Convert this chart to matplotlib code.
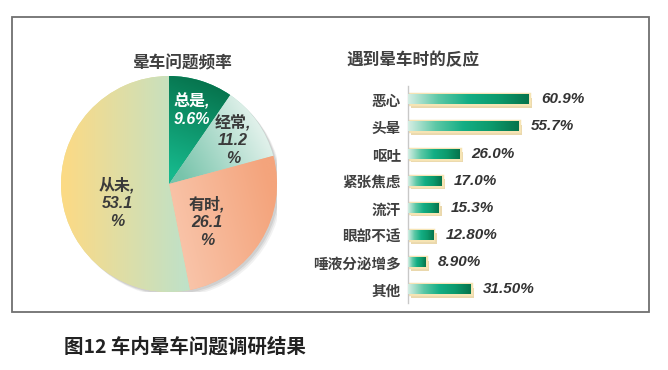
import numpy as np
import matplotlib
matplotlib.use("Agg")
import matplotlib.pyplot as plt
from matplotlib.colors import LinearSegmentedColormap, to_rgb
from matplotlib.patches import Rectangle, Circle
import matplotlib.patheffects as pe

plt.rcParams['font.family'] = ['Noto Sans CJK SC', 'DejaVu Sans']

# ---- data ----
pie_labels = ["总是", "经常", "有时", "从未"]
pie_values = [9.6, 11.2, 26.1, 53.1]
pie_texts = ["总是,\n9.6%", "经常,\n11.2\n%", "有时,\n26.1\n%", "从未,\n53.1\n%"]

bar_categories = ["恶心", "头晕", "呕吐", "紧张焦虑", "流汗", "眼部不适", "唾液分泌增多", "其他"]
bar_values = [60.9, 55.7, 26.0, 17.0, 15.3, 12.8, 8.9, 31.5]
bar_value_labels = ["60.9%", "55.7%", "26.0%", "17.0%", "15.3%", "12.80%", "8.90%", "31.50%"]

pie_title = "晕车问题频率"
bar_title = "遇到晕车时的反应"
caption = "图12 车内晕车问题调研结果"

W, H = 668, 370
fig = plt.figure(figsize=(W / 100, H / 100), dpi=100)
fig.patch.set_facecolor("white")

def fx(px):
    return px / W

def fy(py):
    return 1 - py / H

# border
fig.add_artist(Rectangle((fx(12), fy(312)), fx(649) - fx(12), fy(17) - fy(312),
                         transform=fig.transFigure, fill=False, edgecolor="#707070", lw=1.3))

# ---- pie ----
cx, cy, r = 169, 184, 108
pax = fig.add_axes([fx(cx - r), fy(cy + r), 2 * r / W, 2 * r / H])
wedges, _ = pax.pie(pie_values, startangle=90, counterclock=False, radius=1,
                    colors=["#0a9a6a", "#b0dccb", "#f6b48e", "#e6e0a0"])

# shadow
for k, a in enumerate([0.10, 0.08, 0.06]):
    off = 0.02 + 0.012 * k
    pax.add_patch(Circle((off, -off), 1.0, color="#303030", alpha=a, zorder=0, lw=0))

grads = [
    ((0.40, 0.95), "#06724c", (0.05, 0.10), "#16b88c"),
    ((0.90, 0.55), "#e8f4ef", (0.10, 0.10), "#78c4ab"),
    ((0.00, -0.50), "#f9c6ac", (1.00, -0.25), "#f4a47c"),
    ((-1.00, 0.00), "#fdda84", (0.25, 0.00), "#bbe2cd"),
]
N = 300
xs = np.linspace(-1, 1, N)
X, Y = np.meshgrid(xs, xs)
for w, (p0, c0, p1, c1) in zip(wedges, grads):
    p0 = np.array(p0); p1 = np.array(p1)
    d = p1 - p0
    t = ((X - p0[0]) * d[0] + (Y - p0[1]) * d[1]) / (d @ d)
    t = np.clip(t, 0, 1)[..., None]
    img = (1 - t) * np.array(to_rgb(c0)) + t * np.array(to_rgb(c1))
    im = pax.imshow(img, extent=[-1, 1, -1, 1], origin="lower", aspect="auto",
                    zorder=2, interpolation="bilinear")
    im.set_clip_path(w)
    w.set_zorder(1)

pie_pos = [(192, 110), (233, 140), (207, 222), (117, 203)]
pie_colors = ["white", "#3a3a3a", "#3a3a3a", "#3a3a3a"]
for txt, (px, py), col in zip(pie_texts, pie_pos, pie_colors):
    pax.text((px - cx) / r, (cy - py) / r, txt, ha="center", va="center",
             fontsize=11.5, fontweight="bold", style="italic", color=col,
             family=["Liberation Sans", "Noto Sans CJK SC"], linespacing=1.2, zorder=5)
pax.set_xlim(-1, 1)
pax.set_ylim(-1, 1)
pax.set_aspect("auto")
pax.axis("off")

fig.text(fx(183), fy(63), pie_title, ha="center", va="center", fontsize=12,
         fontweight="bold", color="#404040")

# ---- bars ----
x0 = 408
unit = 121 / 60.9
top_y, step = 99.3, (289.3 - 99.3) / 7
bax = fig.add_axes([fx(x0), fy(top_y + 7 * step + step / 2), 100 * unit / W, 8 * step / H])
ypos = np.arange(len(bar_categories))
bh = 0.37
bars = bax.barh(ypos, bar_values, height=bh, color="#1aa87c", zorder=2)
bar_cmap = LinearSegmentedColormap.from_list(
    "g", ["#d6eee4", "#5cc8a6", "#14ae84", "#0c9a6c", "#06744c"], N=256)
grad = np.linspace(0, 1, 256)[None, :]
for b, v, i in zip(bars, bar_values, ypos):
    b.set_path_effects([
        pe.SimplePatchShadow(offset=(2.5, -2.5), shadow_rgbFace="#d9b86a", alpha=0.55),
        pe.Stroke(linewidth=2.5, foreground="#f6e4b4"),
        pe.Normal(),
    ])
    im = bax.imshow(grad, extent=[0, v, i + bh / 2, i - bh / 2], cmap=bar_cmap,
                    aspect="auto", zorder=3, interpolation="bilinear")
    im.set_clip_path(b)
    bax.text(v + 6, i, bar_value_labels[i], ha="left", va="center", fontsize=11,
             fontweight="bold", style="italic", color="#333333",
             family=["Liberation Sans", "Noto Sans CJK SC"])

bax.set_xlim(0, 100)
bax.set_ylim(len(bar_categories) - 0.5, -0.5)
bax.set_yticks(ypos)
bax.set_yticklabels(bar_categories, fontsize=10.5, fontweight="bold", color="#404040")
bax.tick_params(axis="y", length=0, pad=5)
bax.set_xticks([])
for s in ["top", "right", "bottom"]:
    bax.spines[s].set_visible(False)
bax.spines["left"].set_color("#c8c8c8")
bax.spines["left"].set_linewidth(1)
bax.patch.set_alpha(0)

fig.text(fx(347), fy(60), bar_title, ha="left", va="center", fontsize=12,
         fontweight="bold", color="#404040")

fig.text(fx(64), fy(347), caption, ha="left", va="center", fontsize=14,
         fontweight="bold", color="#222222")

fig.savefig("out.png", dpi=100)
